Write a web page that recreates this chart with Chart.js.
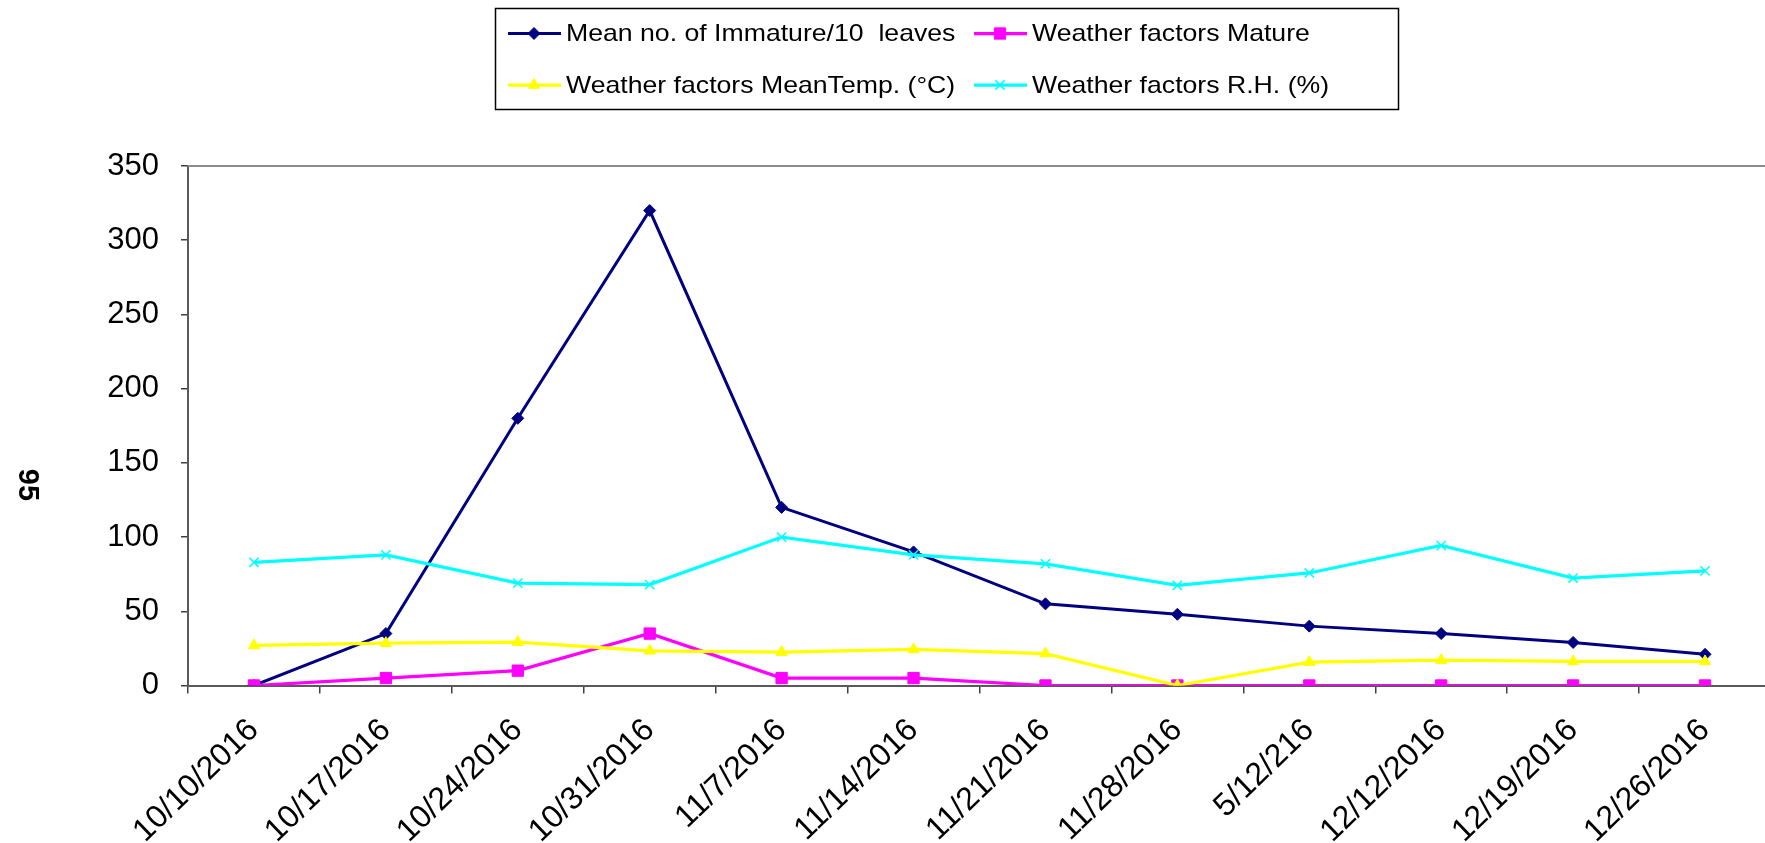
<!DOCTYPE html>
<html><head><meta charset="utf-8">
<script src="https://cdn.jsdelivr.net/npm/chart.js@4.4.0/dist/chart.umd.min.js"></script>
<style>html,body{margin:0;padding:0;background:#fff;overflow:hidden}#wrap{width:1771px;height:843px}</style>
</head><body><div id="wrap"><canvas id="c" width="1771" height="843"></canvas></div>
<script>
const categories = ['10/10/2016','10/17/2016','10/24/2016','10/31/2016','11/7/2016','11/14/2016','11/21/2016','11/28/2016','5/12/216','12/12/2016','12/19/2016','12/26/2016'];
const immature = [0, 35, 180, 320, 120, 90, 55, 48, 40, 35, 29, 21];
const mature = [0, 5, 10, 35, 5, 5, 0, 0, 0, 0, 0, 0];
const meanTemp = [27, 28.5, 29.2, 23.4, 22.5, 24.3, 21.5, 0, 15.7, 17.1, 16.2, 16.2];
const relHum = [83, 88, 69, 68, 100, 88, 82, 67.4, 75.8, 94.3, 72.4, 77.2];
const seriesLabels = ['Mean no. of Immature/10  leaves', 'Weather factors Mature', 'Weather factors MeanTemp. (°C)', 'Weather factors R.H. (%)'];
const yMin = 0, yMax = 350, yStep = 50;
const sideTitle = '95';

const FONT = "'Liberation Sans', Arial, sans-serif";

function mk(label, data, color, style, radius, lw, order, pbw) {
  return {
    label, data, borderColor: color, backgroundColor: color,
    pointBackgroundColor: color, pointBorderColor: color,
    pointStyle: style, pointRadius: radius, pointHoverRadius: radius,
    pointBorderWidth: pbw, borderWidth: lw, tension: 0, order
  };
}
const datasets = [
  mk(seriesLabels[0], immature, '#000080', 'rectRot', 6, 3, 3, 1),
  mk(seriesLabels[1], mature, '#FF00FF', 'rect', 8, 3.25, 2, 1),
  mk(seriesLabels[2], meanTemp, '#FFFF00', 'triangle', 6.5, 3.25, 1, 1),
  mk(seriesLabels[3], relHum, '#00FFFF', 'crossRot', 6.5, 3.25, 0, 1.5)
];

function drawMarker(ctx, ds, x, y) {
  ctx.fillStyle = ds.pointBackgroundColor;
  ctx.strokeStyle = ds.pointBorderColor;
  ctx.lineWidth = ds.pointBorderWidth;
  Chart.helpers.drawPoint(ctx, {pointStyle: ds.pointStyle, radius: ds.pointRadius, borderWidth: ds.pointBorderWidth, rotation: 0}, x, y);
}

const legendPlugin = {
  id: 'boxLegend',
  afterDraw(chart) {
    const ctx = chart.ctx;
    ctx.save();
    ctx.strokeStyle = '#000'; ctx.lineWidth = 1.5;
    ctx.strokeRect(495.5, 8.5, 903, 101);
    const cols = [508, 974], rows = [33.5, 85];
    chart.data.datasets.forEach((ds, i) => {
      const x0 = cols[i % 2], y = rows[Math.floor(i / 2)];
      ctx.strokeStyle = ds.borderColor; ctx.lineWidth = ds.borderWidth;
      ctx.beginPath(); ctx.moveTo(x0, y); ctx.lineTo(x0 + 53, y); ctx.stroke();
      drawMarker(ctx, ds, x0 + 26, y);
      ctx.save();
      ctx.translate(x0 + 58, y + 1);
      ctx.scale(1.11, 1);
      ctx.fillStyle = '#000'; ctx.font = '24px ' + FONT;
      ctx.textAlign = 'left'; ctx.textBaseline = 'middle';
      ctx.fillText(ds.label, 0, 0);
      ctx.restore();
    });
    // side title
    ctx.translate(27.5, 485); ctx.rotate(Math.PI / 2);
    ctx.font = 'bold 29px ' + FONT; ctx.textAlign = 'center'; ctx.textBaseline = 'middle';
    ctx.fillStyle = '#000';
    ctx.fillText(sideTitle, 0, 1);
    ctx.restore();
  }
};

const frame = {
  id: 'frame',
  beforeDatasetsDraw(chart) {
    const {ctx, chartArea: a} = chart;
    ctx.save();
    ctx.strokeStyle = '#8c8c8c'; ctx.lineWidth = 2;
    ctx.beginPath(); ctx.moveTo(a.left, a.top); ctx.lineTo(a.right, a.top); ctx.lineTo(a.right, a.bottom); ctx.stroke();
    ctx.restore();
  }
};

new Chart(document.getElementById('c'), {
  type: 'line',
  data: { labels: categories, datasets },
  options: {
    responsive: false, animation: false, devicePixelRatio: 1,
    layout: { autoPadding: false, padding: { top: 166, left: 0, right: 0, bottom: 0 } },
    plugins: { legend: { display: false }, tooltip: { enabled: false } },
    scales: {
      x: {
        offset: true,
        grid: { offset: true, drawOnChartArea: false, drawTicks: true, tickLength: 8, color: '#404040', lineWidth: 1.5 },
        border: { display: true, color: '#5a5a5a', width: 2 },
        ticks: { autoSkip: false, minRotation: 44, maxRotation: 44, padding: 18, color: '#000', font: { family: FONT, size: 32 } },
        afterFit(s) { s.height = 157.5; s.paddingRight = 0; s.paddingLeft = 0; }
      },
      y: {
        min: yMin, max: yMax,
        ticks: { stepSize: yStep, padding: 22, color: '#000', font: { family: FONT, size: 31 } },
        grid: { drawOnChartArea: false, drawTicks: true, tickLength: 7, color: '#404040', lineWidth: 1.5 },
        border: { display: true, color: '#5a5a5a', width: 2 },
        afterFit(s) { s.width = 188; }
      }
    }
  },
  plugins: [legendPlugin, frame]
});
</script>
</body></html>
